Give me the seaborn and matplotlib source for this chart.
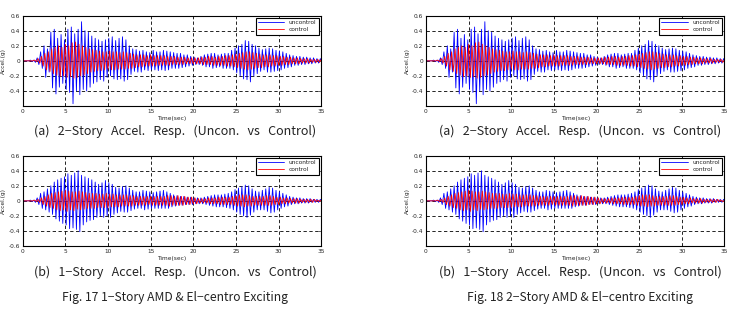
import numpy as np
import pandas as pd
import matplotlib
matplotlib.use("Agg")
import matplotlib.pyplot as plt
import seaborn as sns

# spike spacing (sec per cycle)
period = 0.4

# 2-story response: positive / negative peak of each cycle
story2_unc_up = [0.00, 0.00, 0.01, 0.01, 0.04, 0.12, 0.20, 0.16, 0.38, 0.42,
                 0.30, 0.35, 0.28, 0.42, 0.45, 0.36, 0.42, 0.52, 0.40, 0.38,
                 0.33, 0.30, 0.28, 0.26, 0.28, 0.30, 0.32, 0.27, 0.30, 0.32,
                 0.28, 0.20, 0.16, 0.15, 0.13, 0.14, 0.12, 0.11, 0.14, 0.12,
                 0.12, 0.14, 0.13, 0.12, 0.11, 0.10, 0.10, 0.08, 0.08, 0.06,
                 0.05, 0.04, 0.06, 0.08, 0.09, 0.10, 0.10, 0.08, 0.09, 0.10,
                 0.10, 0.14, 0.17, 0.20, 0.22, 0.27, 0.26, 0.22, 0.20, 0.17,
                 0.15, 0.16, 0.17, 0.16, 0.14, 0.13, 0.12, 0.10, 0.08, 0.07,
                 0.06, 0.06, 0.05, 0.05, 0.04, 0.04, 0.03, 0.03]
story2_unc_dn = [0.00, 0.00, -0.01, -0.02, -0.05, -0.10, -0.22, -0.15, -0.36, -0.44,
                 -0.35, -0.30, -0.38, -0.42, -0.57, -0.40, -0.45, -0.38, -0.40, -0.35,
                 -0.30, -0.28, -0.25, -0.27, -0.22, -0.20, -0.24, -0.25, -0.24, -0.27,
                 -0.25, -0.18, -0.14, -0.15, -0.15, -0.12, -0.13, -0.12, -0.12, -0.13,
                 -0.12, -0.13, -0.12, -0.10, -0.10, -0.10, -0.09, -0.08, -0.07, -0.06,
                 -0.05, -0.05, -0.06, -0.08, -0.08, -0.10, -0.09, -0.08, -0.10, -0.10,
                 -0.10, -0.12, -0.16, -0.20, -0.24, -0.25, -0.28, -0.20, -0.17, -0.14,
                 -0.12, -0.15, -0.15, -0.14, -0.13, -0.12, -0.10, -0.09, -0.08, -0.06,
                 -0.06, -0.05, -0.05, -0.04, -0.04, -0.03, -0.03, -0.03]
story2_ctl_up = [0.00, 0.00, 0.00, 0.01, 0.03, 0.06, 0.10, 0.12, 0.16, 0.18,
                 0.20, 0.18, 0.22, 0.20, 0.24, 0.25, 0.22, 0.20, 0.18, 0.16,
                 0.15, 0.14, 0.13, 0.12, 0.12, 0.13, 0.12, 0.12, 0.11, 0.12,
                 0.11, 0.10, 0.09, 0.08, 0.08, 0.08, 0.07, 0.08, 0.07, 0.07,
                 0.07, 0.07, 0.06, 0.06, 0.06, 0.05, 0.05, 0.05, 0.04, 0.04,
                 0.04, 0.04, 0.05, 0.05, 0.06, 0.06, 0.05, 0.06, 0.06, 0.07,
                 0.07, 0.08, 0.09, 0.10, 0.11, 0.12, 0.12, 0.11, 0.10, 0.09,
                 0.08, 0.08, 0.08, 0.07, 0.07, 0.06, 0.06, 0.05, 0.05, 0.04,
                 0.04, 0.03, 0.03, 0.03, 0.02, 0.02, 0.02, 0.02]
story2_ctl_dn = [0.00, 0.00, 0.00, -0.01, -0.03, -0.07, -0.12, -0.14, -0.17, -0.19,
                 -0.21, -0.20, -0.22, -0.21, -0.23, -0.22, -0.20, -0.19, -0.17, -0.15,
                 -0.14, -0.13, -0.13, -0.12, -0.11, -0.12, -0.12, -0.11, -0.11, -0.11,
                 -0.10, -0.10, -0.09, -0.08, -0.08, -0.07, -0.07, -0.07, -0.07, -0.06,
                 -0.06, -0.06, -0.06, -0.05, -0.05, -0.05, -0.05, -0.04, -0.04, -0.04,
                 -0.04, -0.04, -0.05, -0.05, -0.05, -0.06, -0.06, -0.06, -0.06, -0.07,
                 -0.07, -0.08, -0.09, -0.10, -0.11, -0.12, -0.11, -0.10, -0.09, -0.09,
                 -0.08, -0.08, -0.07, -0.07, -0.06, -0.06, -0.05, -0.05, -0.04, -0.04,
                 -0.04, -0.03, -0.03, -0.03, -0.02, -0.02, -0.02, -0.02]

# 1-story response
story1_unc_up = [0.00, 0.00, 0.01, 0.01, 0.04, 0.10, 0.12, 0.16, 0.20, 0.25,
                 0.28, 0.30, 0.32, 0.36, 0.34, 0.37, 0.40, 0.34, 0.32, 0.30,
                 0.28, 0.25, 0.22, 0.24, 0.27, 0.24, 0.22, 0.18, 0.17, 0.19,
                 0.20, 0.17, 0.14, 0.12, 0.12, 0.14, 0.13, 0.12, 0.11, 0.12,
                 0.13, 0.14, 0.12, 0.10, 0.08, 0.07, 0.06, 0.06, 0.05, 0.05,
                 0.04, 0.04, 0.04, 0.05, 0.06, 0.07, 0.08, 0.08, 0.08, 0.09,
                 0.10, 0.12, 0.15, 0.17, 0.19, 0.21, 0.20, 0.16, 0.13, 0.12,
                 0.14, 0.16, 0.18, 0.17, 0.14, 0.12, 0.10, 0.08, 0.06, 0.05,
                 0.04, 0.04, 0.03, 0.03, 0.03, 0.02, 0.02, 0.02]
story1_unc_dn = [0.00, 0.00, -0.01, -0.02, -0.05, -0.10, -0.12, -0.15, -0.18, -0.24,
                 -0.27, -0.30, -0.32, -0.37, -0.36, -0.38, -0.41, -0.32, -0.28, -0.26,
                 -0.25, -0.22, -0.20, -0.22, -0.20, -0.22, -0.18, -0.16, -0.14, -0.15,
                 -0.15, -0.13, -0.11, -0.10, -0.10, -0.12, -0.11, -0.10, -0.10, -0.10,
                 -0.10, -0.10, -0.10, -0.08, -0.07, -0.06, -0.06, -0.05, -0.05, -0.05,
                 -0.04, -0.04, -0.04, -0.05, -0.06, -0.07, -0.08, -0.08, -0.08, -0.09,
                 -0.10, -0.12, -0.15, -0.18, -0.20, -0.22, -0.19, -0.15, -0.12, -0.12,
                 -0.12, -0.14, -0.16, -0.15, -0.12, -0.10, -0.08, -0.07, -0.05, -0.04,
                 -0.04, -0.03, -0.03, -0.03, -0.02, -0.02, -0.02, -0.02]
story1_ctl_up = [0.00, 0.00, 0.00, 0.01, 0.02, 0.04, 0.06, 0.08, 0.10, 0.11,
                 0.12, 0.13, 0.14, 0.13, 0.12, 0.12, 0.13, 0.12, 0.11, 0.10,
                 0.10, 0.10, 0.09, 0.09, 0.10, 0.09, 0.09, 0.08, 0.08, 0.08,
                 0.08, 0.07, 0.07, 0.06, 0.06, 0.06, 0.06, 0.06, 0.06, 0.06,
                 0.06, 0.06, 0.07, 0.07, 0.06, 0.07, 0.06, 0.06, 0.05, 0.05,
                 0.04, 0.03, 0.03, 0.03, 0.04, 0.04, 0.04, 0.05, 0.05, 0.05,
                 0.05, 0.06, 0.07, 0.08, 0.08, 0.08, 0.07, 0.06, 0.06, 0.06,
                 0.06, 0.07, 0.07, 0.06, 0.05, 0.05, 0.04, 0.04, 0.03, 0.03,
                 0.03, 0.02, 0.02, 0.02, 0.02, 0.02, 0.01, 0.01]
story1_ctl_dn = [0.00, 0.00, 0.00, -0.01, -0.02, -0.05, -0.07, -0.09, -0.10, -0.12,
                 -0.13, -0.12, -0.14, -0.12, -0.13, -0.11, -0.12, -0.11, -0.10, -0.10,
                 -0.10, -0.09, -0.09, -0.09, -0.09, -0.08, -0.08, -0.08, -0.07, -0.07,
                 -0.07, -0.07, -0.06, -0.06, -0.06, -0.06, -0.05, -0.06, -0.06, -0.06,
                 -0.06, -0.06, -0.07, -0.06, -0.06, -0.06, -0.06, -0.05, -0.05, -0.04,
                 -0.04, -0.03, -0.03, -0.03, -0.04, -0.04, -0.04, -0.05, -0.05, -0.05,
                 -0.05, -0.06, -0.07, -0.07, -0.08, -0.07, -0.07, -0.06, -0.06, -0.06,
                 -0.06, -0.06, -0.06, -0.05, -0.05, -0.04, -0.04, -0.03, -0.03, -0.03,
                 -0.03, -0.02, -0.02, -0.02, -0.02, -0.01, -0.01, -0.01]

series_names = ["uncontrol", "control"]
x_ticks = [0, 5, 10, 15, 20, 25, 30, 35]
sub_captions = ["(a) 2\u2212Story Accel. Resp. (Uncon. vs Control)",
                "(b) 1\u2212Story Accel. Resp. (Uncon. vs Control)"]
fig_captions = ["Fig. 17 1\u2212Story AMD & El\u2212centro Exciting",
                "Fig. 18 2\u2212Story AMD & El\u2212centro Exciting"]


def trace(up, dn, name, shift):
    t, a = [0.0], [0.0]
    for k in range(len(up)):
        t += [k * period + shift, k * period + shift + period / 2]
        a += [up[k], dn[k]]
    return pd.DataFrame({"time": t, "accel": a, "series": name})


def panel_df(unc_up, unc_dn, ctl_up, ctl_dn):
    return pd.concat([trace(unc_up, unc_dn, "uncontrol", 0.1),
                      trace(ctl_up, ctl_dn, "control", 0.2)], ignore_index=True)


df_top = panel_df(story2_unc_up, story2_unc_dn, story2_ctl_up, story2_ctl_dn)
df_bot = panel_df(story1_unc_up, story1_unc_dn, story1_ctl_up, story1_ctl_dn)

sns.set_style("white")
plt.rcParams["font.family"] = ["DejaVu Sans"]

W, H = 732, 317
fig = plt.figure(figsize=(W / 100, H / 100), dpi=100)

colors = {"uncontrol": "#0000ff", "control": "#ff0000"}


def draw(left, top, df, yticks):
    ax = fig.add_axes([left / W, 1 - (top + 90.3) / H, 298.5 / W, 90.3 / H])
    sns.lineplot(data=df, x="time", y="accel", hue="series", palette=colors,
                 estimator=None, sort=False, lw=0.6, ax=ax)
    ax.set_xlim(0, 35)
    ax.set_ylim(-0.6, 0.6)
    ax.set_xticks(x_ticks)
    ax.set_xticklabels([str(v) for v in x_ticks])
    ax.set_yticks(yticks)
    ax.set_yticklabels(["0" if v == 0 else "%g" % v for v in yticks])
    ax.tick_params(labelsize=4.2, length=2, width=0.5, direction="in", pad=2,
                   top=True, right=True, bottom=True, left=True)
    ax.grid(True, color="black", linestyle=(0, (4, 3)), linewidth=0.6)
    for s in ax.spines.values():
        s.set_color("black")
        s.set_linewidth(0.8)
    ax.set_xlabel("Time(sec)", fontsize=4.2, labelpad=1.5)
    ax.set_ylabel("Accel.(g)", fontsize=4.2, labelpad=1.5)
    handles, labels = ax.get_legend_handles_labels()
    ax.legend(handles, labels, loc="upper right", fontsize=4.2, frameon=True,
              fancybox=False, edgecolor="black", framealpha=1, handlelength=4.5,
              borderpad=0.4, labelspacing=0.3, borderaxespad=0.4)
    ax.get_legend().get_frame().set_linewidth(0.8)
    return ax


ticks_a = [-0.4, -0.2, 0, 0.2, 0.4, 0.6]
ticks_b = [-0.6, -0.4, -0.2, 0, 0.2, 0.4, 0.6]

draw(22.7, 15.7, df_top, ticks_a)
draw(22.7, 155.7, df_bot, ticks_b)
draw(426, 15.7, df_top, ticks_a)
draw(426, 155.7, df_bot, ticks_a)

cap_font = ["Noto Sans CJK KR", "DejaVu Sans"]
wide = "   "
for cx, fc in [(175, fig_captions[0]), (580, fig_captions[1])]:
    fig.text(cx / W, 1 - 131 / H, sub_captions[0].replace(" ", wide), ha="center",
             va="center", fontsize=9, family=cap_font, color="#222222")
    fig.text(cx / W, 1 - 272 / H, sub_captions[1].replace(" ", wide), ha="center",
             va="center", fontsize=9, family=cap_font, color="#222222")
    fig.text(cx / W, 1 - 298 / H, fc, ha="center", va="center",
             fontsize=8.7, family=cap_font, color="#222222")

fig.savefig("out.png", dpi=100)
